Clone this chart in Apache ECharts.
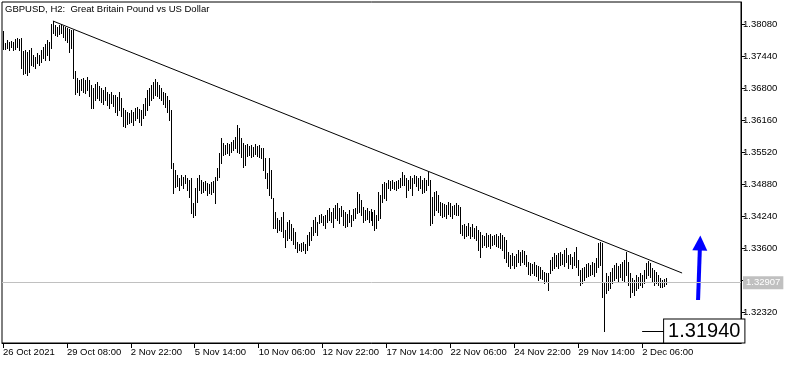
<!DOCTYPE html>
<html><head><meta charset="utf-8">
<script src="https://cdn.jsdelivr.net/npm/echarts@6/dist/echarts.min.js"></script>
<style>html,body{margin:0;padding:0;background:#fff}#c{width:794px;height:365px}</style>
</head><body><div id="c"></div>
<script>
const titleText = 'GBPUSD, H2:  Great Britain Pound vs US Dollar';
const tickLabels = ['26 Oct 2021','29 Oct 08:00','2 Nov 22:00','5 Nov 14:00','10 Nov 06:00','12 Nov 22:00','17 Nov 14:00','22 Nov 06:00','24 Nov 22:00','29 Nov 14:00','2 Dec 06:00'];
const tickStep = 32;
const slotCount = 370;
const categories = Array.from({length: slotCount}, (_, i) => String(i));
const yTickValues = [1.3808, 1.3744, 1.3680, 1.3616, 1.3552, 1.3488, 1.3424, 1.3360, 1.3296, 1.3232];
const yLabelValues = [1.3808, 1.3744, 1.3680, 1.3616, 1.3552, 1.3488, 1.3424, 1.3360, 1.3232];
const highs = [
1.3794,1.3770,1.3776,1.3772,1.3774,1.3772,1.3778,1.3780,1.3778,1.3780,
1.3754,1.3756,1.3752,1.3756,1.3760,1.3746,1.3742,1.3750,1.3746,1.3756,
1.3762,1.3768,1.3776,1.3772,1.3808,1.3814,1.3806,1.3802,1.3806,1.3808,
1.3804,1.3802,1.3800,1.3798,1.3796,1.3796,1.3714,1.3700,1.3696,1.3698,
1.3700,1.3696,1.3702,1.3696,1.3686,1.3680,1.3688,1.3692,1.3684,1.3680,
1.3676,1.3682,1.3672,1.3668,1.3672,1.3666,1.3666,1.3662,1.3672,1.3660,
1.3640,1.3636,1.3632,1.3630,1.3636,1.3632,1.3640,1.3642,1.3638,1.3636,
1.3648,1.3660,1.3676,1.3680,1.3686,1.3692,1.3698,1.3692,1.3686,1.3680,
1.3672,1.3670,1.3664,1.3656,1.3636,1.3530,1.3516,1.3506,1.3500,1.3506,
1.3502,1.3506,1.3500,1.3496,1.3500,1.3450,1.3480,1.3500,1.3506,1.3496,
1.3492,1.3494,1.3490,1.3488,1.3492,1.3494,1.3502,1.3520,1.3550,1.3580,
1.3570,1.3566,1.3570,1.3568,1.3572,1.3576,1.3582,1.3606,1.3600,1.3580,
1.3570,1.3566,1.3568,1.3564,1.3566,1.3562,1.3568,1.3564,1.3566,1.3560,
1.3560,1.3540,1.3510,1.3540,1.3516,1.3460,1.3432,1.3420,1.3416,1.3422,
1.3432,1.3396,1.3412,1.3416,1.3408,1.3400,1.3392,1.3372,1.3368,1.3370,
1.3372,1.3368,1.3386,1.3392,1.3402,1.3416,1.3422,1.3412,1.3426,1.3428,
1.3424,1.3426,1.3436,1.3440,1.3432,1.3440,1.3446,1.3450,1.3440,1.3444,
1.3436,1.3432,1.3428,1.3436,1.3426,1.3438,1.3440,1.3472,1.3468,1.3456,
1.3442,1.3436,1.3440,1.3434,1.3438,1.3432,1.3436,1.3426,1.3472,1.3466,
1.3488,1.3492,1.3490,1.3496,1.3494,1.3496,1.3492,1.3494,1.3496,1.3500,
1.3512,1.3506,1.3500,1.3496,1.3504,1.3500,1.3506,1.3504,1.3500,1.3504,
1.3496,1.3500,1.3496,1.3512,1.3496,1.3462,1.3472,1.3474,1.3466,1.3452,
1.3450,1.3448,1.3446,1.3452,1.3450,1.3444,1.3446,1.3450,1.3446,1.3442,
1.3406,1.3408,1.3404,1.3410,1.3402,1.3408,1.3400,1.3404,1.3396,1.3392,
1.3386,1.3384,1.3390,1.3386,1.3388,1.3384,1.3386,1.3388,1.3384,1.3390,
1.3386,1.3382,1.3376,1.3352,1.3346,1.3350,1.3344,1.3348,1.3356,1.3352,
1.3356,1.3354,1.3346,1.3332,1.3330,1.3328,1.3332,1.3326,1.3324,1.3322,
1.3316,1.3312,1.3310,1.3310,1.3336,1.3342,1.3350,1.3346,1.3350,1.3352,
1.3348,1.3356,1.3360,1.3346,1.3348,1.3342,1.3352,1.3362,1.3336,1.3316,
1.3320,1.3322,1.3328,1.3330,1.3326,1.3332,1.3330,1.3340,1.3370,1.3372,
1.3370,1.3290,1.3310,1.3304,1.3312,1.3320,1.3326,1.3330,1.3324,1.3328,
1.3332,1.3336,1.3352,1.3332,1.3310,1.3300,1.3296,1.3306,1.3302,1.3310,
1.3306,1.3316,1.3330,1.3334,1.3330,1.3320,1.3316,1.3312,1.3306,1.3300,
1.3296,1.3298,1.3300
];
const lows = [
1.3758,1.3758,1.3760,1.3756,1.3762,1.3756,1.3758,1.3762,1.3756,1.3720,
1.3708,1.3710,1.3706,1.3712,1.3726,1.3724,1.3720,1.3730,1.3726,1.3732,
1.3740,1.3736,1.3746,1.3736,1.3760,1.3790,1.3786,1.3784,1.3788,1.3790,
1.3782,1.3776,1.3772,1.3752,1.3760,1.3700,1.3668,1.3672,1.3666,1.3676,
1.3672,1.3670,1.3676,1.3664,1.3640,1.3640,1.3656,1.3660,1.3656,1.3652,
1.3648,1.3656,1.3646,1.3640,1.3650,1.3644,1.3632,1.3626,1.3636,1.3624,
1.3604,1.3602,1.3608,1.3610,1.3612,1.3606,1.3616,1.3620,1.3612,1.3606,
1.3620,1.3626,1.3636,1.3646,1.3656,1.3660,1.3666,1.3664,1.3660,1.3656,
1.3648,1.3642,1.3632,1.3616,1.3520,1.3470,1.3482,1.3484,1.3476,1.3486,
1.3480,1.3490,1.3476,1.3462,1.3430,1.3422,1.3426,1.3452,1.3476,1.3470,
1.3472,1.3476,1.3466,1.3470,1.3468,1.3472,1.3450,1.3496,1.3502,1.3530,
1.3546,1.3548,1.3550,1.3546,1.3552,1.3556,1.3560,1.3552,1.3550,1.3542,
1.3522,1.3526,1.3544,1.3546,1.3542,1.3544,1.3548,1.3544,1.3542,1.3540,
1.3516,1.3500,1.3480,1.3466,1.3460,1.3400,1.3400,1.3392,1.3396,1.3394,
1.3382,1.3362,1.3376,1.3380,1.3376,1.3368,1.3360,1.3352,1.3356,1.3354,
1.3356,1.3350,1.3356,1.3366,1.3376,1.3386,1.3392,1.3386,1.3410,1.3412,
1.3406,1.3400,1.3412,1.3416,1.3412,1.3402,1.3420,1.3416,1.3410,1.3424,
1.3406,1.3402,1.3404,1.3412,1.3404,1.3416,1.3420,1.3430,1.3432,1.3426,
1.3412,1.3416,1.3418,1.3412,1.3416,1.3406,1.3396,1.3400,1.3416,1.3420,
1.3452,1.3460,1.3456,1.3480,1.3476,1.3480,1.3478,1.3476,1.3480,1.3482,
1.3486,1.3486,1.3462,1.3476,1.3480,1.3466,1.3490,1.3484,1.3476,1.3480,
1.3470,1.3472,1.3476,1.3486,1.3406,1.3410,1.3426,1.3436,1.3432,1.3426,
1.3422,1.3424,1.3420,1.3428,1.3424,1.3420,1.3428,1.3426,1.3426,1.3390,
1.3386,1.3380,1.3384,1.3386,1.3380,1.3384,1.3380,1.3376,1.3356,1.3342,
1.3362,1.3366,1.3362,1.3364,1.3360,1.3366,1.3368,1.3364,1.3362,1.3360,
1.3356,1.3340,1.3332,1.3324,1.3320,1.3326,1.3320,1.3324,1.3332,1.3326,
1.3332,1.3328,1.3324,1.3308,1.3306,1.3310,1.3306,1.3304,1.3296,1.3300,
1.3298,1.3290,1.3294,1.3276,1.3310,1.3316,1.3320,1.3324,1.3320,1.3326,
1.3328,1.3324,1.3332,1.3320,1.3328,1.3320,1.3326,1.3322,1.3306,1.3286,
1.3290,1.3296,1.3302,1.3304,1.3306,1.3308,1.3304,1.3312,1.3322,1.3326,
1.3262,1.3194,1.3270,1.3276,1.3280,1.3290,1.3296,1.3300,1.3294,1.3302,
1.3296,1.3292,1.3306,1.3286,1.3262,1.3272,1.3266,1.3276,1.3280,1.3286,
1.3282,1.3290,1.3300,1.3306,1.3302,1.3292,1.3286,1.3290,1.3286,1.3282,
1.3282,1.3284,1.3288
];
const bidPrice = 1.32907;
const lowMarkPrice = 1.3194;
const lowMarkFrom = 320, lowMarkTo = 331;
const trendStart = [25, 1.3814], trendEnd = [340, 1.3310];
const arrowFrom = [348, 1.3256], arrowTo = [349, 1.3370];

const FONT = 'Liberation Sans';
const chart = echarts.init(document.getElementById('c'), null, {renderer: 'canvas'});
const barData = highs.map((h, i) => [i, h, lows[i]]);
const showTick = (idx) => idx % tickStep === 0 && idx / tickStep < tickLabels.length;

chart.setOption({
  animation: false,
  backgroundColor: '#fff',
  title: {text: titleText, left: 5, top: 4, padding: 0,
    textStyle: {fontSize: 9.5, fontWeight: 'normal', color: '#000', fontFamily: FONT}},
  grid: {left: 2, right: 53, top: 2, bottom: 22, show: true, borderColor: '#000', borderWidth: 1, backgroundColor: 'transparent'},
  xAxis: {
    type: 'category', data: categories, boundaryGap: true,
    axisLine: {lineStyle: {color: '#000', width: 1}},
    axisTick: {show: true, alignWithLabel: true, interval: showTick, length: 5, lineStyle: {color: '#000'}},
    axisLabel: {interval: showTick, formatter: (v, idx) => tickLabels[Math.round(Number(v) / tickStep)] || '',
      align: 'left', margin: 4, color: '#000', fontSize: 9.5, fontFamily: FONT},
    splitLine: {show: false}
  },
  yAxis: {
    type: 'value', position: 'right', min: 1.3170, max: 1.3852, scale: true,
    axisLine: {show: true, lineStyle: {color: '#000', width: 1}},
    axisTick: {show: true, length: 4, customValues: yTickValues, lineStyle: {color: '#000'}},
    axisLabel: {customValues: yLabelValues, formatter: v => v.toFixed(5), margin: 2,
      color: '#000', fontSize: 9.5, fontFamily: FONT},
    splitLine: {show: false}
  },
  series: [
    {
      type: 'custom', data: barData, encode: {x: 0, y: [1, 2]}, clip: true,
      renderItem: function (params, api) {
        const x = api.value(0);
        const top = api.coord([x, api.value(1)]);
        const bot = api.coord([x, api.value(2)]);
        const px = Math.round(top[0]) + 0.5;
        return {type: 'line', shape: {x1: px, y1: Math.round(top[1]), x2: px, y2: Math.round(bot[1]) + 1},
          style: {stroke: '#000', lineWidth: 1}};
      }
    },
    {
      type: 'lines', coordinateSystem: 'cartesian2d', silent: true, z: 3,
      data: [{coords: [trendStart, trendEnd]}],
      lineStyle: {color: '#000', width: 1, opacity: 1}
    },
    {
      type: 'lines', coordinateSystem: 'cartesian2d', silent: true, z: 4,
      symbol: ['none', 'triangle'], symbolSize: 15,
      data: [{coords: [arrowFrom, arrowTo]}],
      lineStyle: {color: '#0000ff', width: 4, opacity: 1},
      itemStyle: {color: '#0000ff'}
    },
    {
      type: 'line', data: [], silent: true,
      markLine: {
        silent: true, symbol: 'none', animation: false, precision: 5,
        data: [
          {yAxis: bidPrice, lineStyle: {color: '#c0c0c0', width: 1, type: 'solid'},
            label: {show: true, position: 'end', formatter: '1.32907', backgroundColor: '#c0c0c0', color: '#fff',
              padding: [2, 3, 1, 3], fontSize: 9.5, fontFamily: FONT, distance: 2}},
          [
            {coord: [lowMarkFrom, lowMarkPrice], lineStyle: {color: '#000', width: 1, type: 'solid'},
              label: {show: true, position: 'end', formatter: '1.31940', backgroundColor: '#fff', color: '#000',
                borderColor: '#000', borderWidth: 1, padding: [2, 4, 1, 4], fontSize: 20, fontFamily: FONT, distance: 0}},
            {coord: [lowMarkTo, lowMarkPrice]}
          ]
        ]
      }
    }
  ]
});
</script></body></html>
